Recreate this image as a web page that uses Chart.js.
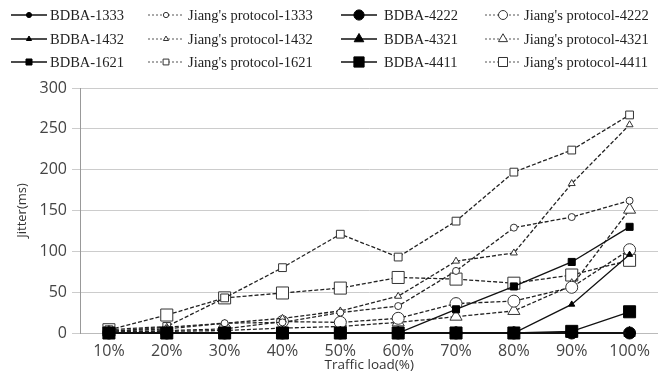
<!DOCTYPE html>
<html>
<head>
<meta charset="utf-8">
<script src="https://cdn.jsdelivr.net/npm/chart.js@4/dist/chart.umd.min.js"></script>
<style>
  html, body { margin: 0; padding: 0; background: #fff; overflow: hidden; }
  canvas { display: block; }
</style>
</head>
<body>
<canvas id="jitterChart" width="668" height="372"></canvas>
<script>
// Traffic load categories and y ticks
const loads = ['10%', '20%', '30%', '40%', '50%', '60%', '70%', '80%', '90%', '100%'];
const yTicks = [0, 50, 100, 150, 200, 250, 300];

// BDBA (solid lines)
const bdba1333 = [0, 0, 0, 0, 0, 0, 0, 0, 0, 0];
const bdba1432 = [0, 0, 0, 0, 0, 0, 0, 0, 35, 96];
const bdba1621 = [0, 0, 0, 0, 0, 0, 29, 57, 87, 130];
const bdba4222 = [0, 0, 0, 0, 0, 0, 0, 0, 0, 0];
const bdba4321 = [0, 0, 0, 0, 0, 0, 0, 0, 0, 0];
const bdba4411 = [0, 0, 0, 0, 0, 0, 0, 0, 2, 26];

// Jiang's protocol (dashed lines)
const jiang1333 = [2, 5, 12, 13, 25, 33, 76, 129, 142, 162];
const jiang1432 = [2, 7, 12, 18, 27, 45, 88, 98, 183, 255];
const jiang1621 = [4, 8, 43, 80, 121, 93, 137, 197, 224, 267];
const jiang4222 = [1, 3, 5, 14, 13, 18, 36, 39, 56, 102];
const jiang4321 = [1, 2, 3, 6, 8, 13, 20, 27, 58, 151];
const jiang4411 = [4, 22, 43, 49, 55, 68, 66, 61, 71, 89];

function solid(label, data, style, r) {
    return {
        label: label, data: data, clip: false,
        borderColor: '#111', borderWidth: 1.3,
        pointStyle: style, pointRadius: r,
        pointBackgroundColor: '#000', pointBorderColor: '#000', pointBorderWidth: 1,
        tension: 0
    };
}
function dashed(label, data, style, r) {
    return {
        label: label, data: data, clip: false,
        borderColor: '#222', borderWidth: 1.3, borderDash: [4, 2],
        pointStyle: style, pointRadius: r,
        pointBackgroundColor: '#fff', pointBorderColor: '#333', pointBorderWidth: 1,
        tension: 0
    };
}

// BDBA first so they are drawn on top; large 4411 squares on the very top
const datasets = [
    solid('BDBA-4411', bdba4411, 'rect', 8.5),
    solid('BDBA-1333', bdba1333, 'circle', 3),
    solid('BDBA-1432', bdba1432, 'triangle', 3.5),
    solid('BDBA-1621', bdba1621, 'rect', 5),
    solid('BDBA-4222', bdba4222, 'circle', 6),
    solid('BDBA-4321', bdba4321, 'triangle', 6.5),
    dashed("Jiang's protocol-1333", jiang1333, 'circle', 3.5),
    dashed("Jiang's protocol-1432", jiang1432, 'triangle', 4),
    dashed("Jiang's protocol-1621", jiang1621, 'rect', 5.5),
    dashed("Jiang's protocol-4222", jiang4222, 'circle', 6),
    dashed("Jiang's protocol-4321", jiang4321, 'triangle', 7),
    dashed("Jiang's protocol-4411", jiang4411, 'rect', 8.5)
];

// legend grid: 3 rows x 4 columns (line start, text x)
const legendCols = [[11, 50], [148, 188], [341, 384], [485, 524]];
const legendRows = [15, 39, 62];
const legendOrder = [
    ['BDBA-1333', "Jiang's protocol-1333", 'BDBA-4222', "Jiang's protocol-4222"],
    ['BDBA-1432', "Jiang's protocol-1432", 'BDBA-4321', "Jiang's protocol-4321"],
    ['BDBA-1621', "Jiang's protocol-1621", 'BDBA-4411', "Jiang's protocol-4411"]
];

const gridLegend = {
    id: 'gridLegend',
    afterDraw(chart) {
        const ctx = chart.ctx;
        ctx.save();
        legendOrder.forEach((row, ri) => {
            row.forEach((label, ci) => {
                const ds = chart.data.datasets.find(d => d.label === label);
                const y = legendRows[ri];
                const x0 = legendCols[ci][0];
                const isDash = !!ds.borderDash;
                ctx.beginPath();
                ctx.setLineDash(isDash ? [2, 2] : []);
                ctx.strokeStyle = isDash ? '#555' : '#111';
                ctx.lineWidth = isDash ? 1 : 1.3;
                ctx.moveTo(x0, y);
                ctx.lineTo(x0 + 36, y);
                ctx.stroke();
                ctx.setLineDash([]);
                ctx.fillStyle = ds.pointBackgroundColor;
                ctx.strokeStyle = ds.pointBorderColor;
                ctx.lineWidth = 1;
                Chart.helpers.drawPoint(ctx, {
                    pointStyle: ds.pointStyle,
                    radius: ds.pointRadius * (isDash ? 0.75 : 0.85),
                    borderWidth: 1, rotation: 0
                }, x0 + 18, y);
                ctx.fillStyle = '#222';
                ctx.font = '14.5px "Liberation Serif", "DejaVu Serif", serif';
                ctx.textBaseline = 'middle';
                ctx.textAlign = 'left';
                ctx.fillText(label, legendCols[ci][1], y + 1);
            });
        });
        ctx.restore();
    }
};

new Chart(document.getElementById('jitterChart'), {
    type: 'line',
    data: { labels: loads, datasets: datasets },
    options: {
        responsive: false,
        animation: false,
        devicePixelRatio: 1,
        layout: { padding: { top: 88, right: 2, left: 0, bottom: 0 } },
        plugins: { legend: { display: false }, tooltip: { enabled: false } },
        scales: {
            x: {
                offset: true,
                grid: { display: false },
                border: { display: true, color: '#bbb', width: 1 },
                ticks: { color: '#444', padding: 2, font: { family: '"Open Sans", sans-serif', size: 16, lineHeight: 1.1 } },
                title: {
                    display: true, text: 'Traffic load(%)', color: '#333',
                    font: { family: '"Open Sans", sans-serif', size: 13.5, lineHeight: 1 },
                    padding: { top: 0, bottom: 0 }
                },
                afterFit(scale) { scale.height = 39; }
            },
            y: {
                min: 0, max: 300,
                afterBuildTicks(scale) { scale.ticks = yTicks.map(v => ({ value: v })); },
                grid: { color: '#ccc', lineWidth: 1, tickLength: 8, drawTicks: true },
                border: { display: true, color: '#999', width: 1 },
                ticks: { color: '#444', padding: 5, font: { family: '"Open Sans", sans-serif', size: 16 } },
                title: {
                    display: true, text: 'Jitter(ms)', color: '#333',
                    font: { family: '"Open Sans", sans-serif', size: 13 },
                    padding: { top: 14, bottom: 0 }
                },
                afterFit(scale) { scale.width = 80; }
            }
        }
    },
    plugins: [gridLegend]
});
</script>
</body>
</html>
